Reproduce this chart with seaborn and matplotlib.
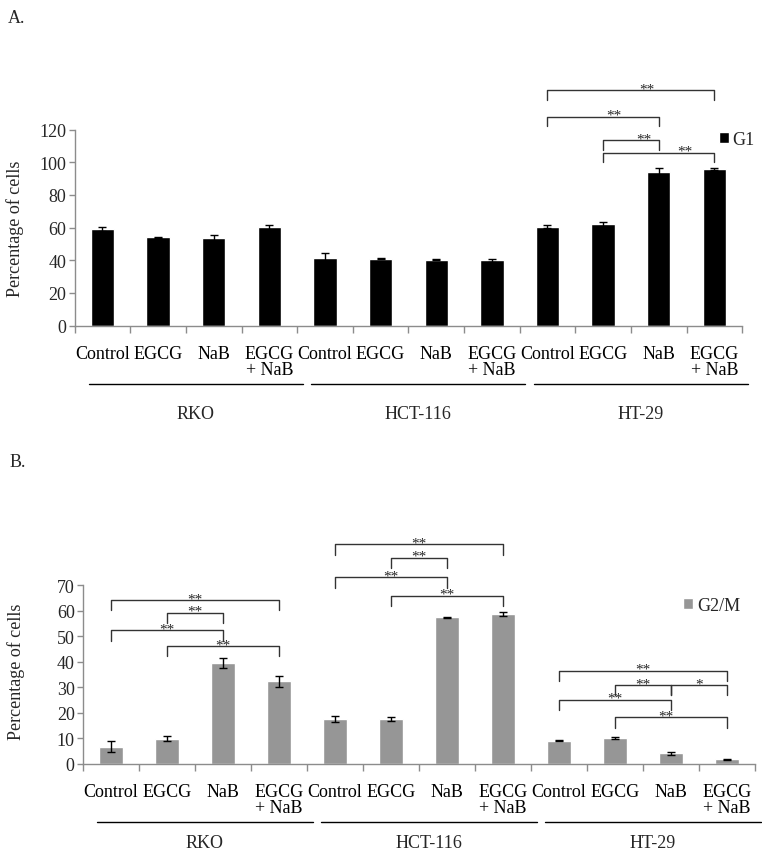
import numpy as np
import pandas as pd
import matplotlib
matplotlib.use('Agg')
import matplotlib.pyplot as plt
import matplotlib.transforms as mtransforms
import seaborn as sns

# data
cell_lines = ['RKO', 'HCT-116', 'HT-29']
treatments = ['Control', 'EGCG', 'NaB', 'EGCG\n+ NaB']

g1_values = [59.2, 54.1, 53.4, 60.2,
             41.3, 41.0, 40.4, 40.0,
             60.6, 62.2, 94.1, 95.9]
g1_errors = [1.4, 0.4, 1.8, 1.6,
             2.9, 0.4, 0.3, 1.0,
             1.0, 1.0, 2.2, 0.8]

g2m_values = [6.7, 9.8, 39.4, 32.2,
              17.4, 17.5, 57.3, 58.5,
              8.9, 10.0, 4.0, 1.7]
g2m_errors = [2.1, 0.9, 1.9, 2.0,
              1.2, 0.6, 0.2, 0.8,
              0.2, 0.3, 0.5, 0.3]

# significance brackets: (bar i, bar j, bracket height, text x, label)
g1_sig = [(8, 11, 144.0, 9.79, '**'),
          (8, 10, 128.0, 9.2, '**'),
          (9, 10, 113.6, 9.74, '**'),
          (9, 11, 106.0, 10.47, '**')]
g2m_sig = [(0, 3, 64.1, 1.5, '**'),
           (1, 2, 59.1, 1.5, '**'),
           (0, 2, 52.2, 1.0, '**'),
           (1, 3, 46.1, 2.0, '**'),
           (4, 7, 85.9, 5.5, '**'),
           (5, 6, 80.7, 5.5, '**'),
           (4, 6, 73.0, 5.0, '**'),
           (5, 7, 65.8, 6.0, '**'),
           (8, 11, 36.4, 9.5, '**'),
           (9, 10, 30.8, 9.5, '**'),
           (10, 11, 30.8, 10.5, '*'),
           (8, 10, 25.1, 9.0, '**'),
           (9, 11, 18.1, 9.9, '**')]

sns.set_theme(style='white')
plt.rcParams['font.family'] = ['Liberation Serif', 'DejaVu Serif']

keys = [f'{c}|{t}' for c in cell_lines for t in treatments]
tick_labels = [t for c in cell_lines for t in treatments]

axis_gray = '#8c8c8c'


def draw_panel(ax, values, errors, phase, color, ymax, ystep, sig, leg_drop,
               legend_anchor, line_y, label_y):
    df = pd.DataFrame({'key': keys, 'value': values, 'phase': phase})
    sns.barplot(data=df, x='key', y='value', hue='phase', order=keys,
                palette=[color], width=0.42, dodge=False, errorbar=None,
                saturation=1, ax=ax)
    x = np.arange(len(keys))
    ax.errorbar(x, values, yerr=errors, fmt='none', ecolor='black',
                elinewidth=1, capsize=3, capthick=1)

    ax.set_ylim(0, ymax)
    ax.set_xlim(-0.5, len(keys) - 0.5)
    ax.set_yticks(np.arange(0, ymax + 1, ystep))
    ax.set_xticks(x)
    ax.set_xticklabels(tick_labels, fontsize=13, linespacing=0.9)
    ax.set_xticks(np.arange(-0.5, len(keys), 1.0), minor=True)
    ax.tick_params(axis='x', which='major', length=0, pad=14, colors='black')
    ax.tick_params(axis='x', which='minor', length=5, width=1,
                   color=axis_gray, direction='out', bottom=True)
    ax.tick_params(axis='y', length=4, width=1, color=axis_gray,
                   direction='out', left=True, labelsize=13, pad=2)
    ax.set_xlabel('')
    ax.set_ylabel('Percentage of cells', fontsize=13)
    sns.despine(ax=ax)
    for s in ['left', 'bottom']:
        ax.spines[s].set_color(axis_gray)
        ax.spines[s].set_linewidth(1)

    handles, labels = ax.get_legend_handles_labels()
    ax.legend(handles, labels, loc='center left', bbox_to_anchor=legend_anchor,
              frameon=False, fontsize=13, handlelength=0.55, handleheight=0.55,
              handletextpad=0.2, borderpad=0, borderaxespad=0)

    for i, j, y, tx, lab in sig:
        ax.plot([i, i, j, j], [y - leg_drop, y, y, y - leg_drop],
                color='#333333', lw=1, clip_on=False)
        ax.annotate(lab, xy=(tx, y), xytext=(0, 1), textcoords='offset points',
                    ha='center', va='center', fontsize=11, annotation_clip=False)

    trans = mtransforms.blended_transform_factory(ax.transData, ax.transAxes)
    for g, name in enumerate(cell_lines):
        x0 = g * 4 - 0.25
        x1 = g * 4 + 3.6
        ax.plot([x0, x1], [line_y, line_y], color='black', lw=1,
                transform=trans, clip_on=False)
        ax.text((x0 + x1) / 2, label_y, name, transform=trans,
                ha='center', va='center', fontsize=13)


fig = plt.figure(figsize=(7.62, 8.54), dpi=100)
ax_a = fig.add_axes([0.098, 0.6175, 0.876, 0.2295])
ax_b = fig.add_axes([0.109, 0.1046, 0.882, 0.2092])

draw_panel(ax_a, g1_values, g1_errors, 'G1', 'black', 120, 20, g1_sig, 6,
           (0.965, 0.95), -0.296, -0.45)
draw_panel(ax_b, g2m_values, g2m_errors, 'G2/M', '#969696', 70, 10, g2m_sig, 4,
           (0.893, 0.888), -0.326, -0.44)

ax_a.yaxis.set_label_coords(-0.076, 0.5)
ax_b.yaxis.set_label_coords(-0.087, 0.52)

fig.text(0.010, 0.978, 'A.', fontsize=13, va='center')
fig.text(0.013, 0.459, 'B.', fontsize=13, va='center')

fig.savefig('out.png', dpi=100)
